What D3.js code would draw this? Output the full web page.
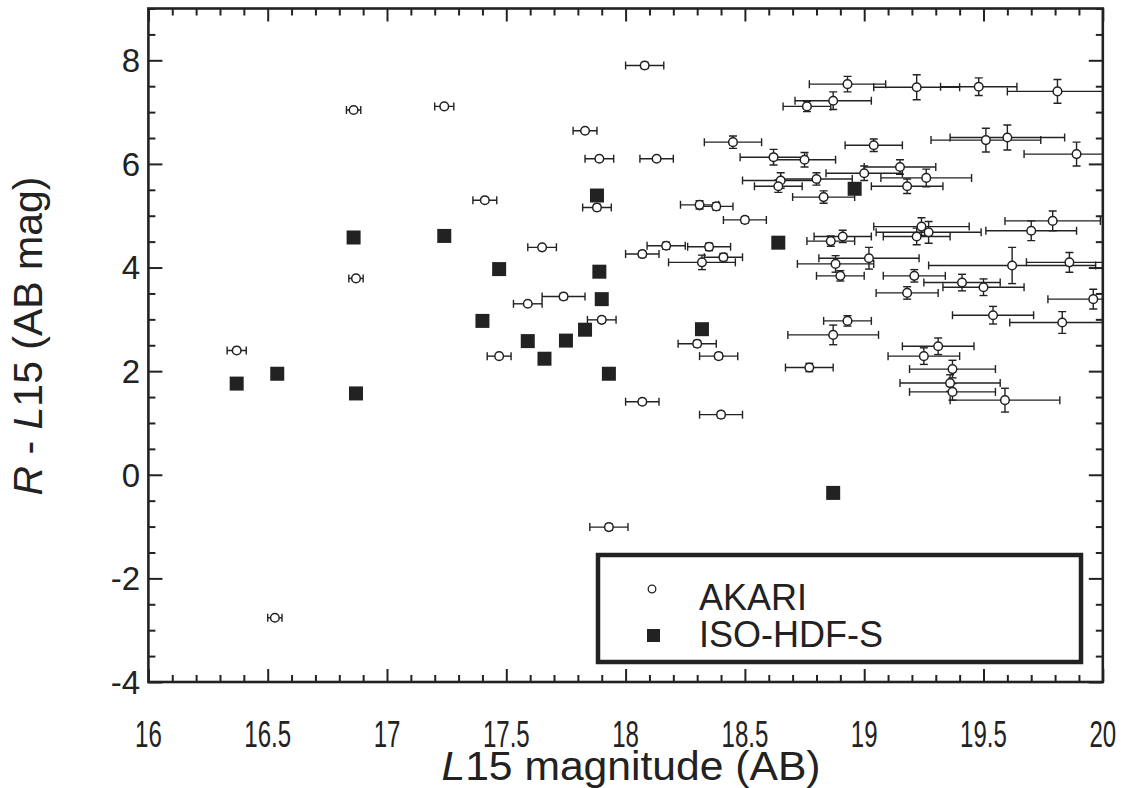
<!DOCTYPE html>
<html>
<head>
<meta charset="utf-8">
<script src="https://cdn.jsdelivr.net/npm/d3@7"></script>
<style>
  body { margin: 0; background: #fff; }
  svg { display: block; font-family: "Liberation Sans", Arial, sans-serif; }
</style>
</head>
<body>
<script>
// AKARI sources: L15 mag, R - L15 colour and their errors
const akariMag = [
  16.86, 17.24, 17.41, 16.87, 17.59, 17.65, 16.37, 17.47, 16.53, 18.08,
  17.83, 17.89, 18.13, 18.45, 18.62, 18.75, 18.93, 19.22, 19.48, 19.81,
  18.87, 18.76, 19.04, 19.51, 19.60, 19.89, 19.00, 19.15, 19.26, 19.18,
  18.83, 18.65, 18.64, 18.80, 18.50, 18.31, 18.38, 17.88, 18.17, 18.35,
  18.07, 18.41, 18.32, 17.74, 17.90, 18.30, 18.39, 18.07, 18.40, 17.93,
  18.77, 18.87, 18.93, 19.24, 19.27, 19.22, 18.91, 18.86, 19.79, 19.70,
  19.02, 18.88, 18.90, 19.62, 19.86, 19.21, 19.18, 19.41, 19.50, 19.96,
  19.54, 19.83, 19.31, 19.25, 19.37, 19.36, 19.37, 19.59
];
const akariColor = [
  7.04, 7.11, 5.30, 3.79, 3.30, 4.39, 2.40, 2.29, -2.76, 7.90,
  6.64, 6.10, 6.10, 6.42, 6.13, 6.08, 7.54, 7.48, 7.49, 7.40,
  7.22, 7.11, 6.36, 6.46, 6.51, 6.19, 5.82, 5.94, 5.73, 5.57,
  5.36, 5.68, 5.57, 5.71, 4.92, 5.21, 5.18, 5.16, 4.42, 4.40,
  4.26, 4.20, 4.10, 3.44, 2.99, 2.53, 2.29, 1.41, 1.16, -1.01,
  2.07, 2.70, 2.97, 4.79, 4.68, 4.60, 4.60, 4.51, 4.90, 4.71,
  4.18, 4.07, 3.84, 4.04, 4.10, 3.84, 3.51, 3.71, 3.62, 3.39,
  3.08, 2.94, 2.48, 2.29, 2.04, 1.77, 1.60, 1.44
];
const akariMagErr = [
  0.03, 0.04, 0.05, 0.03, 0.06, 0.06, 0.04, 0.05, 0.03, 0.08,
  0.05, 0.06, 0.07, 0.12, 0.14, 0.13, 0.16, 0.18, 0.16, 0.21,
  0.16, 0.10, 0.12, 0.23, 0.24, 0.22, 0.16, 0.15, 0.19, 0.15,
  0.13, 0.16, 0.10, 0.15, 0.09, 0.08, 0.07, 0.06, 0.08, 0.09,
  0.07, 0.08, 0.14, 0.09, 0.06, 0.08, 0.08, 0.07, 0.09, 0.08,
  0.10, 0.19, 0.10, 0.20, 0.22, 0.14, 0.12, 0.10, 0.20, 0.19,
  0.21, 0.16, 0.10, 0.35, 0.18, 0.13, 0.13, 0.16, 0.17, 0.19,
  0.17, 0.22, 0.15, 0.15, 0.18, 0.21, 0.18, 0.23
];
const akariColorErr = [
  0.02, 0.02, 0.02, 0.02, 0.02, 0.03, 0.02, 0.02, 0.02, 0.06,
  0.04, 0.04, 0.04, 0.12, 0.15, 0.14, 0.15, 0.24, 0.17, 0.23,
  0.17, 0.10, 0.12, 0.23, 0.24, 0.23, 0.14, 0.14, 0.17, 0.14,
  0.12, 0.15, 0.12, 0.12, 0.06, 0.08, 0.07, 0.06, 0.07, 0.07,
  0.06, 0.07, 0.14, 0.06, 0.05, 0.06, 0.06, 0.05, 0.06, 0.06,
  0.08, 0.19, 0.10, 0.17, 0.21, 0.16, 0.12, 0.10, 0.19, 0.19,
  0.21, 0.16, 0.10, 0.35, 0.19, 0.12, 0.12, 0.16, 0.16, 0.19,
  0.17, 0.21, 0.16, 0.16, 0.17, 0.16, 0.16, 0.23
];

// ISO-HDF-S sources
const isoMag = [16.86, 17.24, 17.47, 17.40, 17.59, 16.37, 16.54, 16.87, 17.88, 17.89,
  17.90, 17.83, 17.75, 18.64, 18.32, 17.93, 17.66, 18.87, 18.96];
const isoColor = [4.58, 4.61, 3.97, 2.97, 2.58, 1.76, 1.95, 1.57, 5.39, 3.92,
  3.39, 2.80, 2.59, 4.48, 2.81, 1.95, 2.24, -0.35, 5.52];

const xMajor = [16, 16.5, 17, 17.5, 18, 18.5, 19, 19.5, 20];
const yMajor = [-4, -2, 0, 2, 4, 6, 8];
const legendNames = ['AKARI', 'ISO-HDF-S'];

const width = 1123, height = 788;
const plotLeft = 148.4, plotRight = 1102.8, plotTop = 8.5, plotBottom = 682;

let svg = d3.select('body').append('svg')
  .attr('width', width)
  .attr('height', height);

let x = d3.scaleLinear().domain([16, 20]).range([plotLeft, plotRight]);
let y = d3.scaleLinear().domain([-4, 9]).range([plotBottom, plotTop]);

svg.append('defs').append('clipPath')
  .attr('id', 'plot-clip')
  .append('rect')
  .attr('x', plotLeft).attr('y', plotTop)
  .attr('width', plotRight - plotLeft).attr('height', plotBottom - plotTop);

// ticks, all pointing inward
const xMinor = d3.range(160, 201).map(d => d / 10).filter(d => !xMajor.includes(d));
const yMinor = d3.range(-8, 19).map(d => d / 2).filter(d => !yMajor.includes(d));

function tickAxis(axis, pos, values, size)
{
  return svg.append('g')
    .attr('transform', pos)
    .call(axis.tickValues(values).tickSize(size).tickFormat(''))
    .call(g => g.select('.domain').remove())
    .call(g => g.selectAll('line').attr('stroke', '#222').attr('stroke-width', 2));
}

tickAxis(d3.axisBottom(x), `translate(0,${plotBottom})`, xMajor, -13);
tickAxis(d3.axisBottom(x), `translate(0,${plotBottom})`, xMinor, -7);
tickAxis(d3.axisTop(x), `translate(0,${plotTop})`, xMajor, -13);
tickAxis(d3.axisTop(x), `translate(0,${plotTop})`, xMinor, -7);
tickAxis(d3.axisLeft(y), `translate(${plotLeft},0)`, yMajor, -14);
tickAxis(d3.axisLeft(y), `translate(${plotLeft},0)`, yMinor, -7);
tickAxis(d3.axisRight(y), `translate(${plotRight},0)`, yMajor, -14);
tickAxis(d3.axisRight(y), `translate(${plotRight},0)`, yMinor, -7);

// tick labels
svg.append('g')
  .selectAll('text')
  .data(xMajor)
  .enter()
  .append('text')
  .attr('transform', d => `translate(${x(d)},747) scale(0.65,1)`)
  .attr('text-anchor', 'middle')
  .attr('font-size', 37)
  .attr('fill', '#222')
  .text(d => String(d));

svg.append('g')
  .selectAll('text')
  .data(yMajor)
  .enter()
  .append('text')
  .attr('x', 140)
  .attr('y', d => y(d))
  .attr('dy', '0.36em')
  .attr('text-anchor', 'end')
  .attr('font-size', 33)
  .attr('fill', '#222')
  .text(d => String(d));

// frame
svg.append('rect')
  .attr('x', plotLeft).attr('y', plotTop)
  .attr('width', plotRight - plotLeft).attr('height', plotBottom - plotTop)
  .attr('fill', 'none')
  .attr('stroke', '#222')
  .attr('stroke-width', 2.6);

// axis titles
let ytitle = svg.append('text')
  .attr('transform', 'translate(42,336) rotate(-90)')
  .attr('text-anchor', 'middle')
  .attr('font-size', 41)
  .attr('fill', '#222');
ytitle.append('tspan').attr('font-style', 'italic').text('R');
ytitle.append('tspan').text(' - ');
ytitle.append('tspan').attr('font-style', 'italic').text('L');
ytitle.append('tspan').text('15 (AB mag)');

let xtitle = svg.append('text')
  .attr('transform', 'translate(631,780) scale(1.04,1)')
  .attr('text-anchor', 'middle')
  .attr('font-size', 41)
  .attr('fill', '#222');
xtitle.append('tspan').attr('font-style', 'italic').text('L');
xtitle.append('tspan').text('15 magnitude (AB)');

// AKARI points with error bars
let akari = akariMag.map((m, i) => ({
  mag: m, color: akariColor[i], dm: akariMagErr[i], dc: akariColorErr[i]
}));

let plot = svg.append('g').attr('clip-path', 'url(#plot-clip)');
const cap = 4;

let bars = plot.append('g')
  .attr('stroke', '#222')
  .attr('stroke-width', 1.4)
  .selectAll('g')
  .data(akari)
  .enter()
  .append('g');

bars.append('line')
  .attr('x1', d => x(d.mag - d.dm)).attr('x2', d => x(d.mag + d.dm))
  .attr('y1', d => y(d.color)).attr('y2', d => y(d.color));
bars.append('line')
  .attr('x1', d => x(d.mag - d.dm)).attr('x2', d => x(d.mag - d.dm))
  .attr('y1', d => y(d.color) - cap).attr('y2', d => y(d.color) + cap);
bars.append('line')
  .attr('x1', d => x(d.mag + d.dm)).attr('x2', d => x(d.mag + d.dm))
  .attr('y1', d => y(d.color) - cap).attr('y2', d => y(d.color) + cap);
bars.append('line')
  .attr('x1', d => x(d.mag)).attr('x2', d => x(d.mag))
  .attr('y1', d => y(d.color + d.dc)).attr('y2', d => y(d.color - d.dc));
bars.append('line')
  .attr('x1', d => x(d.mag) - cap).attr('x2', d => x(d.mag) + cap)
  .attr('y1', d => y(d.color + d.dc)).attr('y2', d => y(d.color + d.dc));
bars.append('line')
  .attr('x1', d => x(d.mag) - cap).attr('x2', d => x(d.mag) + cap)
  .attr('y1', d => y(d.color - d.dc)).attr('y2', d => y(d.color - d.dc));

plot.append('g')
  .selectAll('circle')
  .data(akari)
  .enter()
  .append('circle')
  .attr('cx', d => x(d.mag))
  .attr('cy', d => y(d.color))
  .attr('r', 4.3)
  .attr('fill', '#fff')
  .attr('stroke', '#222')
  .attr('stroke-width', 1.5);

// ISO-HDF-S squares
const sq = 14;
plot.append('g')
  .selectAll('rect')
  .data(isoMag)
  .enter()
  .append('rect')
  .attr('x', d => x(d) - sq / 2)
  .attr('y', (d, i) => y(isoColor[i]) - sq / 2)
  .attr('width', sq)
  .attr('height', sq)
  .attr('fill', '#222');

// legend
let legend = svg.append('g');
legend.append('rect')
  .attr('x', 598).attr('y', 555)
  .attr('width', 483).attr('height', 107)
  .attr('fill', '#fff')
  .attr('stroke', '#222')
  .attr('stroke-width', 4.5);
legend.append('circle')
  .attr('cx', 652).attr('cy', 589)
  .attr('r', 3.8)
  .attr('fill', '#fff')
  .attr('stroke', '#222')
  .attr('stroke-width', 1.3);
legend.append('rect')
  .attr('x', 647).attr('y', 629)
  .attr('width', 13).attr('height', 13)
  .attr('fill', '#222');
legend.selectAll('text')
  .data(legendNames)
  .enter()
  .append('text')
  .attr('x', 699)
  .attr('y', (d, i) => i === 0 ? 610 : 647)
  .attr('font-size', 36)
  .attr('fill', '#222')
  .text(d => d);
</script>
</body>
</html>
